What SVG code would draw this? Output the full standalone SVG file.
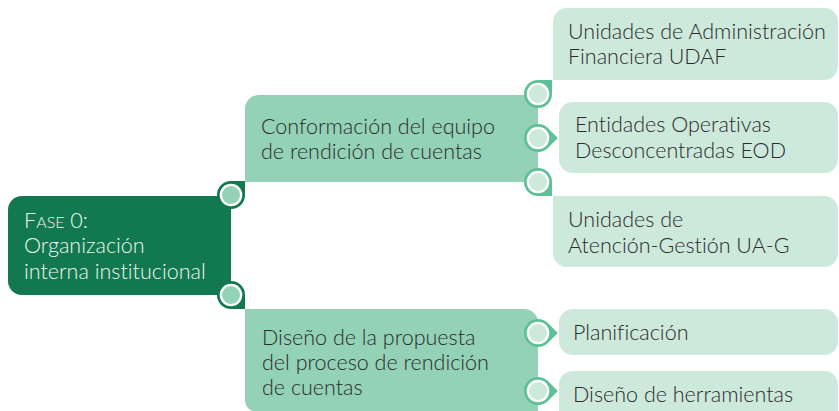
<svg xmlns="http://www.w3.org/2000/svg" xmlns:xlink="http://www.w3.org/1999/xlink" width="839" height="411" viewBox="0 0 839 411">
<style>
  .t { font-family: "Lato", "Open Sans", "Liberation Sans", sans-serif; font-size: 21.5px; font-weight: 300; fill: #2b2b2b; font-variant-ligatures: none; }
  .tw { font-family: "Lato", "Open Sans", "Liberation Sans", sans-serif; font-size: 21.5px; font-weight: 300; fill: #eef7f2; font-variant-ligatures: none; }
  .dark { fill: #12784f; }
  .mid { fill: #93d2b7; }
  .light { fill: #cde9dc; }
  .ring { fill: #ffffff; }
  .pinD { fill: #12784f; }
  .pinM { fill: #5ec096; }
</style>
<defs>
  <path id="pin" d="M19.8,0 L9.9,9.9 A14,14 0 1 1 9.9,-9.9 Z"/>
</defs>
<rect width="839" height="411" fill="#ffffff"/>

<g id="node-fase0">
  <path class="dark" d="M231,196 L231,295 L22,295 A14,14 0 0 1 8,281 L8,210 A14,14 0 0 1 22,196 Z"/>
  <text class="tw" x="24" y="228">F<tspan font-size="16">ASE</tspan> 0:</text>
  <text class="tw" x="24" y="253">Organización</text>
  <text class="tw" x="24" y="279">interna institucional</text>
</g>

<g id="node-conformacion">
  <path class="mid" d="M245,182 L245,109 A14,14 0 0 1 259,95 L538,95 L538,182 Z"/>
  <text class="t" x="261" y="134">Conformación del equipo</text>
  <text class="t" x="261" y="159">de rendición de cuentas</text>
</g>

<g id="node-diseno">
  <path class="mid" d="M245,309 L524,309 A14,14 0 0 1 538,323 L538,412 L257,412 A12,12 0 0 1 245,400 Z"/>
  <text class="t" x="262" y="345">Diseño de la propuesta</text>
  <text class="t" x="262" y="370">del proceso de rendición</text>
  <text class="t" x="262" y="395">de cuentas</text>
</g>

<g id="node-udaf">
  <path class="light" d="M553,80 L553,22 A14,14 0 0 1 567,8 L824,8 A14,14 0 0 1 838,22 L838,66 A14,14 0 0 1 824,80 Z"/>
  <text class="t" x="568" y="39">Unidades de Administración</text>
  <text class="t" x="568" y="64">Financiera UDAF</text>
</g>

<g id="node-eod">
  <rect class="light" x="559" y="102" width="279" height="71" rx="14" ry="14"/>
  <text class="t" x="575" y="132">Entidades Operativas</text>
  <text class="t" x="575" y="158">Desconcentradas EOD</text>
</g>

<g id="node-uag">
  <path class="light" d="M553,196 L824,196 A14,14 0 0 1 838,210 L838,253 A14,14 0 0 1 824,267 L567,267 A14,14 0 0 1 553,253 Z"/>
  <text class="t" x="568" y="227">Unidades de</text>
  <text class="t" x="568" y="253">Atención-Gestión UA-G</text>
</g>

<g id="node-planificacion">
  <rect class="light" x="559" y="309" width="279" height="46" rx="14" ry="14"/>
  <text class="t" x="573" y="340">Planificación</text>
</g>

<g id="node-herramientas">
  <rect class="light" x="559" y="371" width="279" height="56" rx="14" ry="14"/>
  <text class="t" x="573" y="402">Diseño de herramientas</text>
</g>

<g id="connectors">
  <g transform="translate(231,195) rotate(-45)">
    <use xlink:href="#pin" class="pinD"/>
    <circle r="11.3" class="ring"/><circle r="9" class="mid"/>
  </g>
  <g transform="translate(231,295) rotate(45)">
    <use xlink:href="#pin" class="pinD"/>
    <circle r="11.3" class="ring"/><circle r="9" class="mid"/>
  </g>
  <g transform="translate(538,94) rotate(-45)">
    <use xlink:href="#pin" class="pinM"/>
    <circle r="11.3" class="ring"/><circle r="9" class="light"/>
  </g>
  <g transform="translate(538,138)">
    <use xlink:href="#pin" class="pinM"/>
    <circle r="11.3" class="ring"/><circle r="9" class="light"/>
  </g>
  <g transform="translate(538,182) rotate(45)">
    <use xlink:href="#pin" class="pinM"/>
    <circle r="11.3" class="ring"/><circle r="9" class="light"/>
  </g>
  <g transform="translate(538,333)">
    <use xlink:href="#pin" class="pinM"/>
    <circle r="11.3" class="ring"/><circle r="9" class="light"/>
  </g>
  <g transform="translate(538,391)">
    <use xlink:href="#pin" class="pinM"/>
    <circle r="11.3" class="ring"/><circle r="9" class="light"/>
  </g>
</g>
</svg>
